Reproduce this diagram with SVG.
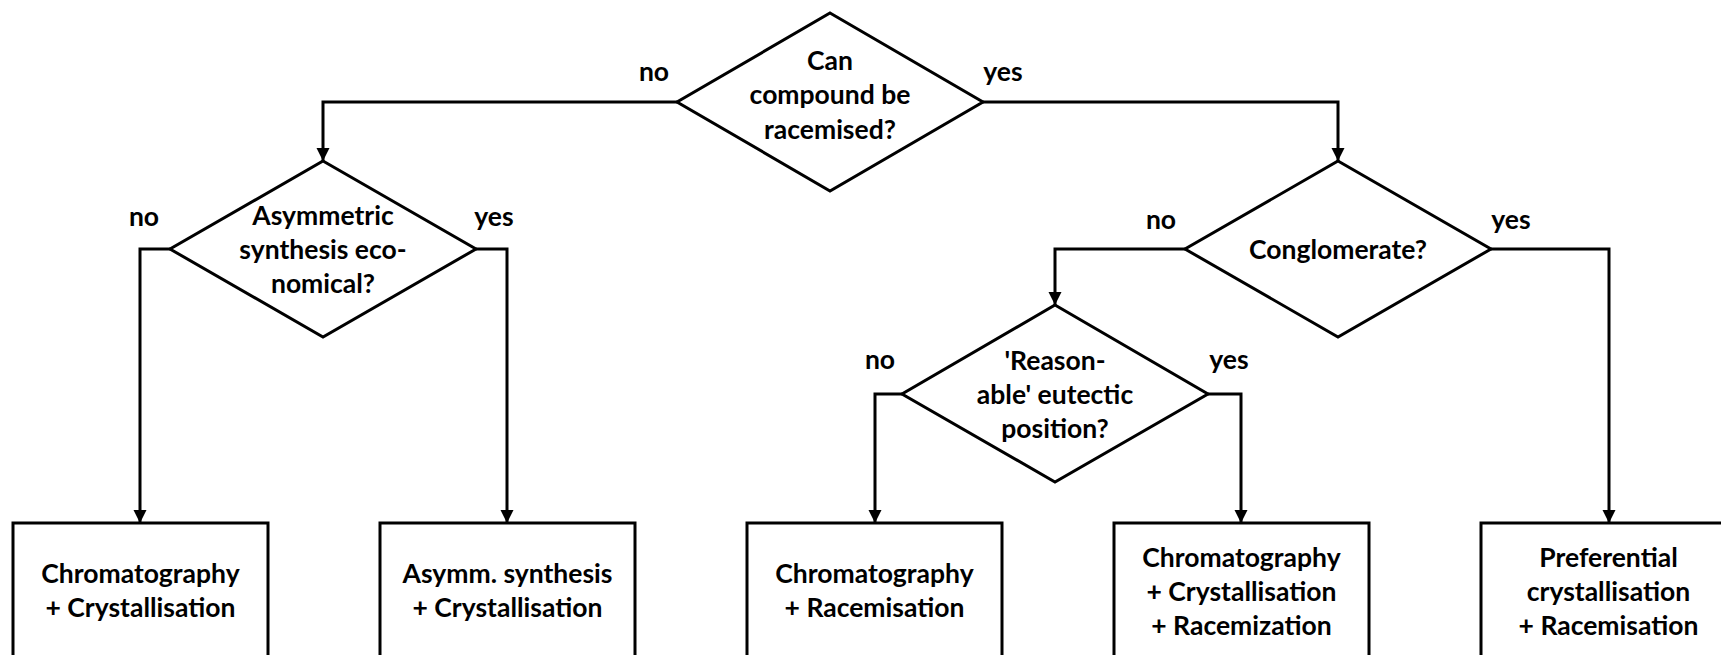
<svg xmlns="http://www.w3.org/2000/svg" width="1721" height="655" viewBox="0 0 1721 655">
<defs>
<style>
.s{fill:#fff;stroke:#000;stroke-width:3}
.c{fill:none;stroke:#000;stroke-width:3}
text{font-family:Lato,"Liberation Sans",sans-serif;font-weight:bold;font-size:26.5px;fill:#000;text-anchor:middle}
</style>
<marker id="ah" viewBox="0 0 10 10" refX="10" refY="5" markerWidth="4.5" markerHeight="5" markerUnits="strokeWidth" orient="auto">
<path d="M0,0 L10,5 L0,10 Z" fill="#000"/>
</marker>
</defs>
<rect width="1721" height="655" fill="#fff"/>
<g id="connectors">
<path class="c" marker-end="url(#ah)" d="M677,102 H323 V161"/>
<path class="c" marker-end="url(#ah)" d="M983,102 H1338 V161"/>
<path class="c" marker-end="url(#ah)" d="M170,249 H140 V523"/>
<path class="c" marker-end="url(#ah)" d="M476,249 H507 V523"/>
<path class="c" marker-end="url(#ah)" d="M1185,249 H1055 V305"/>
<path class="c" marker-end="url(#ah)" d="M1491,249 H1609 V523"/>
<path class="c" marker-end="url(#ah)" d="M902,394 H875 V523"/>
<path class="c" marker-end="url(#ah)" d="M1208,394 H1241 V523"/>
<text x="654" y="81">no</text>
<text x="1003" y="81">yes</text>
<text x="144" y="226">no</text>
<text x="494" y="226">yes</text>
<text x="1161" y="229">no</text>
<text x="1511" y="229">yes</text>
<text x="880" y="369">no</text>
<text x="1229" y="369">yes</text>
</g>
<g id="q1">
<polygon class="s" points="830,13 983,102 830,191 677,102"/>
<text x="830" y="70">Can</text>
<text x="830" y="104">compound be</text>
<text x="830" y="139">racemised?</text>
</g>
<g id="q2">
<polygon class="s" points="323,161 476,249 323,337 170,249"/>
<text x="323" y="225">Asymmetric</text>
<text x="323" y="259">synthesis eco-</text>
<text x="323" y="293">nomical?</text>
</g>
<g id="q3">
<polygon class="s" points="1338,161 1491,249 1338,337 1185,249"/>
<text x="1338" y="259">Conglomerate?</text>
</g>
<g id="q4">
<polygon class="s" points="1055,305 1208,394 1055,482 902,394"/>
<text x="1055" y="370">'Reason-</text>
<text x="1055" y="404">able' eutectic</text>
<text x="1055" y="438">position?</text>
</g>
<g id="b1">
<rect class="s" x="13" y="523" width="255" height="150"/>
<text x="140.5" y="583">Chromatography</text>
<text x="140.5" y="617">+ Crystallisation</text>
</g>
<g id="b2">
<rect class="s" x="380" y="523" width="255" height="150"/>
<text x="507.5" y="583">Asymm. synthesis</text>
<text x="507.5" y="617">+ Crystallisation</text>
</g>
<g id="b3">
<rect class="s" x="747" y="523" width="255" height="150"/>
<text x="874.5" y="583">Chromatography</text>
<text x="874.5" y="617">+ Racemisation</text>
</g>
<g id="b4">
<rect class="s" x="1114" y="523" width="255" height="150"/>
<text x="1241.5" y="567">Chromatography</text>
<text x="1241.5" y="601">+ Crystallisation</text>
<text x="1241.5" y="635">+ Racemization</text>
</g>
<g id="b5">
<rect class="s" x="1481" y="523" width="255" height="150"/>
<text x="1608.5" y="567">Preferential</text>
<text x="1608.5" y="601">crystallisation</text>
<text x="1608.5" y="635">+ Racemisation</text>
</g>
</svg>
